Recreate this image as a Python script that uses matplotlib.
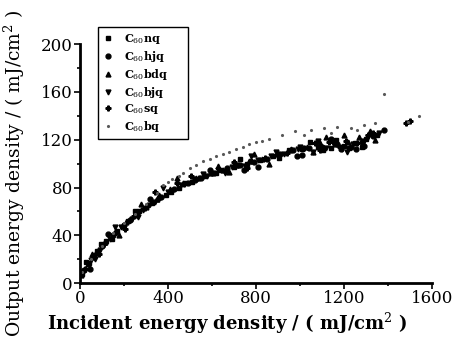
import matplotlib
matplotlib.use("Agg")
import matplotlib.pyplot as plt

# one list pair per sample
nq_x = [10, 40, 80, 120, 170, 220, 270, 330, 390, 450, 510, 570, 640, 700, 760, 820, 880, 950,
        1010, 1080, 1140, 1200, 1250, 1300, 1350, 415, 620, 905, 1105, 1225,
        30, 95, 145, 250, 480, 730, 1045, 1165, 1280]
nq_y = [8, 17, 27, 35, 44, 52, 60, 67, 74, 80, 85, 90, 95, 97, 100, 103, 106, 111,
        112, 114, 113, 115, 117, 121, 124, 76, 92, 105, 111, 113,
        18, 33, 37, 60, 84, 104, 118, 120, 114]
hjq_x = [20, 60, 100, 150, 200, 260, 310, 370, 430, 490, 550, 610, 670, 730, 790, 850, 910, 970,
         1040, 1100, 1170, 1230, 1280, 1330, 1380, 525, 745, 985, 1185, 1290,
         45, 130, 230, 320, 590, 810, 1010, 1140, 1255]
hjq_y = [11, 22, 31, 40, 49, 59, 65, 72, 79, 84, 88, 92, 96, 99, 101, 104, 108, 111,
         113, 114, 116, 114, 118, 123, 128, 86, 95, 106, 112, 115,
         12, 41, 53, 70, 95, 97, 107, 121, 112]
bdq_x = [5, 35, 75, 115, 160, 210, 250, 300, 350, 410, 470, 530, 590, 650, 710, 770, 830, 900,
         960, 1030, 1090, 1160, 1220, 1270, 1320, 360, 680, 860, 1060, 1340,
         55, 180, 280, 440, 630, 790, 1120, 1200]
bdq_y = [7, 16, 26, 34, 43, 51, 57, 64, 70, 79, 84, 88, 92, 95, 99, 102, 104, 108,
         112, 114, 117, 116, 118, 122, 127, 74, 93, 100, 110, 120,
         24, 40, 66, 88, 98, 108, 122, 124]
bjq_x = [15, 50, 90, 135, 185, 235, 285, 340, 400, 460, 520, 580, 630, 690, 750, 810, 870, 930,
         990, 1060, 1120, 1190, 1240, 1290, 1360, 560, 780, 1000, 1150, 1310,
         70, 160, 265, 380, 660, 890, 1080, 1215]
bjq_y = [9, 19, 28, 37, 47, 54, 61, 68, 76, 82, 87, 90, 95, 97, 98, 103, 106, 108,
         112, 110, 113, 112, 116, 119, 126, 91, 106, 114, 117, 122,
         20, 47, 55, 80, 92, 110, 119, 110]
sq_x = [25, 65, 110, 155, 195, 245, 295, 355, 415, 475, 540, 600, 660, 720, 780, 840, 900, 960,
        1020, 1070, 1130, 1180, 1260, 1310, 1500, 440, 700, 940, 1210, 1480,
        85, 205, 340, 505, 760, 1090, 1330]
sq_y = [12, 23, 33, 41, 48, 56, 63, 70, 77, 83, 88, 92, 94, 99, 102, 105, 108, 111,
        113, 117, 118, 114, 117, 124, 136, 84, 101, 109, 119, 134,
        24, 45, 76, 90, 96, 111, 126]
bq_x = [10, 50, 100, 150, 200, 250, 300, 350, 400, 450, 500, 560, 620, 680, 740, 800, 860, 920,
        980, 1050, 1110, 1170, 1230, 1290, 1340, 1380, 1490, 1540,
        380, 420, 470, 530, 590, 650, 710, 770, 830, 1020, 1140, 1260]
bq_y = [9, 20, 31, 42, 50, 58, 66, 75, 85, 90, 96, 102, 106, 110, 114, 118, 121, 124,
        127, 128, 130, 131, 130, 132, 134, 158, 135, 140,
        82, 87, 92, 99, 104, 108, 112, 116, 119, 124, 126, 128]

labels = [r'C$_{60}$nq', r'C$_{60}$hjq', r'C$_{60}$bdq', r'C$_{60}$bjq', r'C$_{60}$sq', r'C$_{60}$bq']

plt.rcParams['font.family'] = ['DejaVu Serif']
plt.rcParams['mathtext.fontset'] = 'dejavuserif'

fig = plt.figure(figsize=(4.59, 3.37), dpi=100)
ax = fig.add_axes([0.174, 0.160, 0.767, 0.709])

ax.plot(nq_x, nq_y, 's', color='k', ms=3.5, label=labels[0])
ax.plot(hjq_x, hjq_y, 'o', color='k', ms=3.5, label=labels[1])
ax.plot(bdq_x, bdq_y, '^', color='k', ms=3.5, label=labels[2])
ax.plot(bjq_x, bjq_y, 'v', color='k', ms=3.5, label=labels[3])
ax.plot(sq_x, sq_y, 'P', color='k', ms=3.5, label=labels[4])
ax.plot(bq_x, bq_y, '.', color='0.35', ms=2.5, label=labels[5])

ax.set_xlim(0, 1600)
ax.set_ylim(0, 200)
ax.set_xticks([0, 400, 800, 1200, 1600])
ax.set_xticks([200, 600, 1000, 1400], minor=True)
ax.set_yticks([0, 40, 80, 120, 160, 200])
ax.set_yticks([20, 60, 100, 140, 180], minor=True)
ax.spines['top'].set_visible(False)
ax.spines['right'].set_visible(False)
ax.spines['left'].set_linewidth(2)
ax.spines['bottom'].set_linewidth(2)
ax.tick_params(which='major', length=4, width=1.2, labelsize=12, pad=1)
ax.tick_params(which='minor', length=2, width=1.2)

ax.set_xlabel('Incident energy density / ( mJ/cm$^2$ )', fontsize=13, fontweight='bold')
ax.xaxis.set_label_coords(0.418, -0.115)
ax.set_ylabel('Output energy density / ( mJ/cm$^2$ )', fontsize=13.5)
ax.yaxis.set_label_coords(-0.15, 0.46)

leg = ax.legend(loc='upper left', bbox_to_anchor=(0.051, 1.071, 0.256, 0), mode='expand',
                borderaxespad=0, frameon=True, fancybox=False, edgecolor='k',
                handlelength=1.0, handletextpad=0.9, labelspacing=0.25, borderpad=0.45,
                framealpha=1, prop={'weight': 'bold', 'size': 8})
leg.get_frame().set_linewidth(1.0)

fig.savefig('out.png', dpi=100)
